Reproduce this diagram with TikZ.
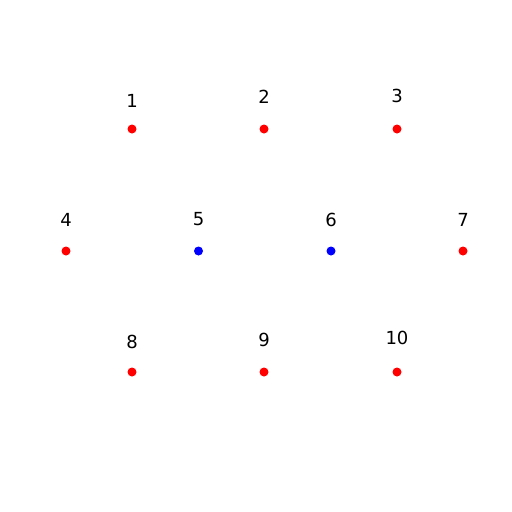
\documentclass[tikz,border=0pt]{standalone}
\usepackage{fontspec}
\setmainfont{DejaVu Sans}
\usepackage{xcolor}
\usetikzlibrary{calc}
\tikzset{
  dotnode/.style={circle, inner sep=0pt, minimum size=9pt},
  numlabel/.style={font=\fontsize{18}{20}\selectfont, inner sep=0pt},
}
\begin{document}
\begin{tikzpicture}[x=1pt,y=-1pt]
\useasboundingbox (0,0) rectangle (512,512);
\foreach \n/\x/\y/\ly/\c in {1/132/129/100.5/red,2/264/129/96.5/red,3/397/129/96/red,
    4/66/251/220/red,5/198.5/251/219.5/blue,6/331/251/219.5/blue,7/463/251/220/red,
    8/132/372/341.5/red,9/264/372/339.5/red,10/397/372/338/red}{
    \node[dotnode, fill=\c] (p\n) at (\x,\y) {};
    \node[numlabel] (l\n) at (\x,\ly) {\n};
}
\end{tikzpicture}
\end{document}
